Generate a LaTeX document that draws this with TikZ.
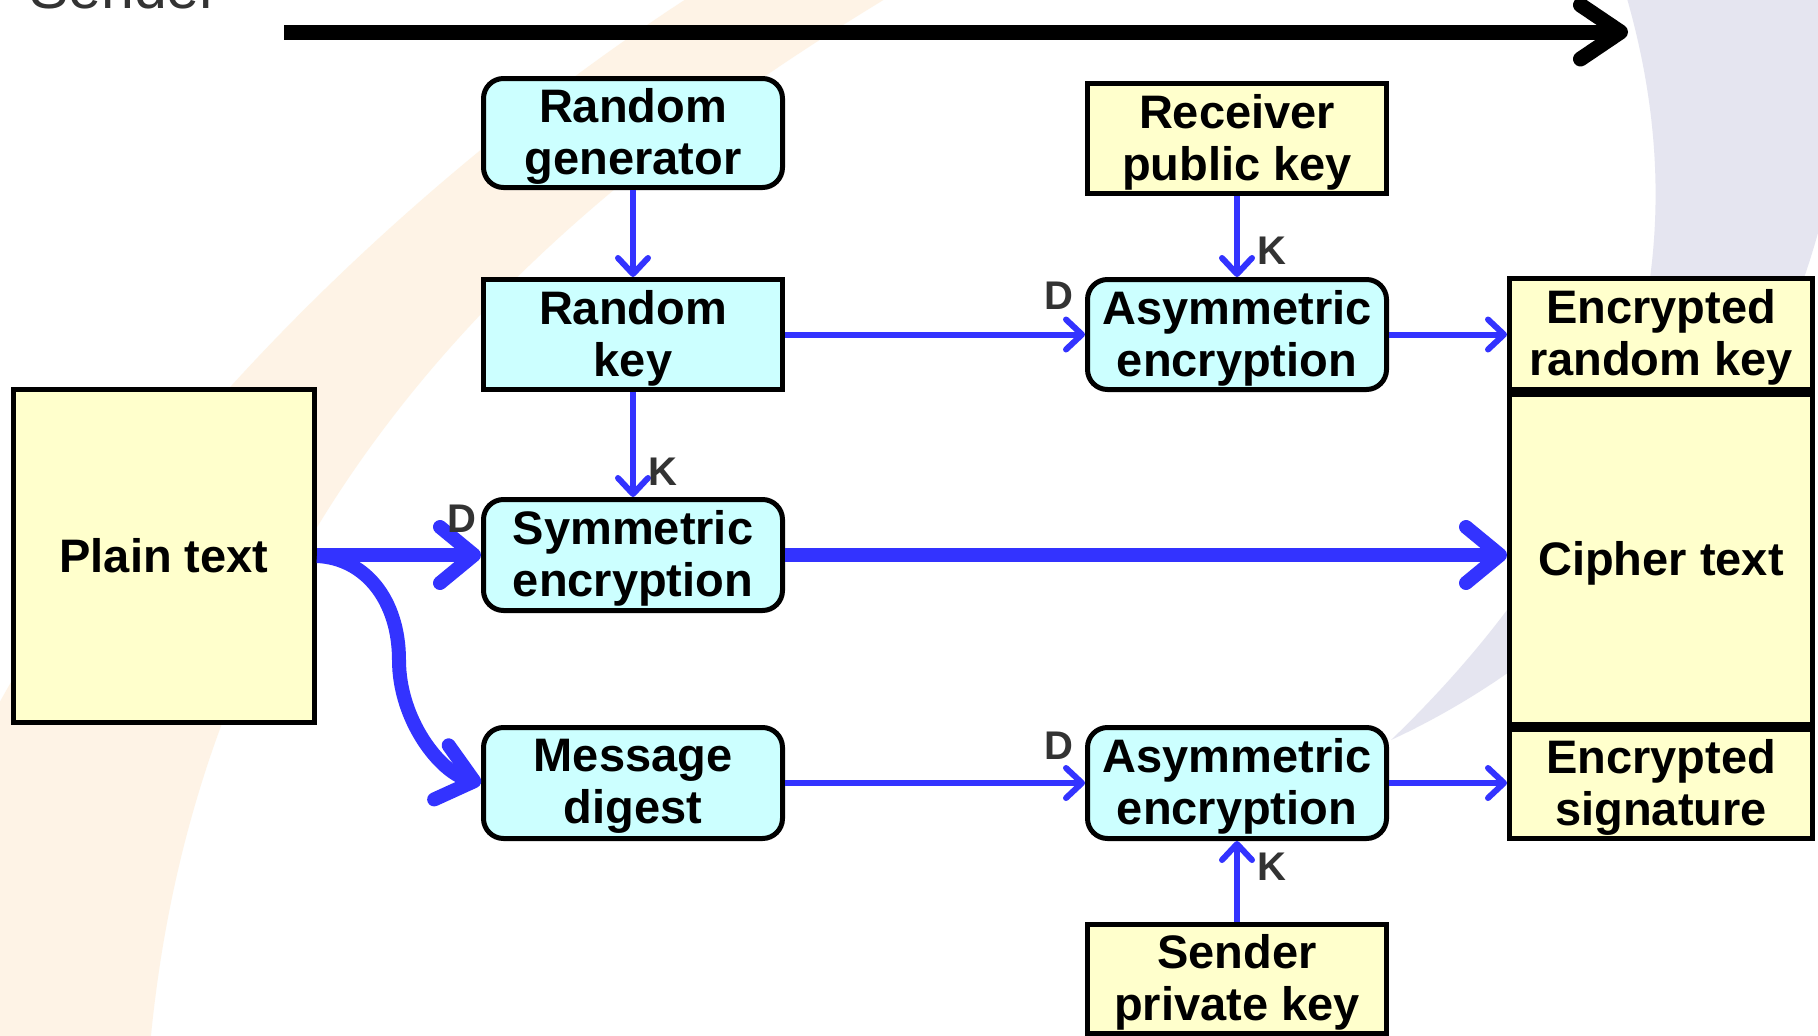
\documentclass[tikz,border=0pt]{standalone}
\usepackage{fontspec}
\setmainfont{Liberation Sans}
\usetikzlibrary{arrows.meta}
\definecolor{myblue}{RGB}{51,51,255}
\definecolor{boxyellow}{RGB}{255,255,204}
\definecolor{boxcyan}{RGB}{204,255,255}
\definecolor{lblgray}{RGB}{51,51,51}
\definecolor{bgorange}{RGB}{254,243,230}
\definecolor{bglav}{RGB}{229,229,240}
\begin{document}
\begin{tikzpicture}[x=1pt,y=-1pt,
  box/.style={draw=black, line width=5pt, inner sep=0pt, align=center,
    font=\fontsize{47}{52}\selectfont\bfseries, text=black},
  twoline/.style={text depth=3pt},
  ybox/.style={box, fill=boxyellow},
  cbox/.style={box, fill=boxcyan},
  rbox/.style={cbox, rounded corners=20pt},
  thinarrow/.style={draw=myblue, line width=6pt, -{Straight Barb[length=16pt,width=30pt,round]}},
  thickarrow/.style={draw=myblue, line width=14pt, -{Straight Barb[length=34pt,width=56pt,round]}},
  lbl/.style={font=\fontsize{40}{44}\selectfont\bfseries, text=lblgray, inner sep=0pt},
]
\useasboundingbox (0,0) rectangle (1818,1036);
\fill[white] (0,0) rectangle (1818,1036);
\begin{scope}
\clip (0,0) rectangle (1818,1036);
% background swooshes
\fill[bgorange] (-10,720) .. controls (150,420) and (450,150) .. (700,-10)
  -- (900,-10) .. controls (550,200) and (200,500) .. (150,1046) -- (-10,1046) -- cycle;
\fill[bglav] (1626,-5) .. controls (1700,250) and (1640,500) .. (1391,740)
  .. controls (1650,620) and (1850,350) .. (1850,-5) -- cycle;
\end{scope}

% sender title (cut off at top)
\node[font=\fontsize{59}{60}\selectfont, text=lblgray, anchor=base west, inner sep=0pt] (sender) at (29,9) {Sender};
\coordinate (tl) at (284,32);
\coordinate (tr) at (1628,32);
\draw[line width=15pt, -{Straight Barb[length=40pt,width=54pt,round]}] (tl) -- (tr);

% nodes
\node[rbox, twoline, minimum width=299pt, minimum height=109pt] (rgen) at (633,133) {Random\\generator};
\node[cbox, twoline, minimum width=299pt, minimum height=110pt] (rkey) at (633,334.5) {Random\\key};
\node[rbox, twoline, minimum width=299pt, minimum height=111pt] (sym) at (633,555) {Symmetric\\encryption};
\node[rbox, twoline, minimum width=299pt, minimum height=111pt] (md) at (633,783) {Message\\digest};
\node[ybox, twoline, minimum width=299pt, minimum height=110pt] (rpk) at (1237,138.5) {Receiver\\public key};
\node[rbox, twoline, minimum width=299pt, minimum height=110pt] (asym1) at (1237,334.5) {Asymmetric\\encryption};
\node[rbox, twoline, minimum width=299pt, minimum height=111pt] (asym2) at (1237,783) {Asymmetric\\encryption};
\node[ybox, twoline, minimum width=299pt, minimum height=109pt] (spk) at (1237,979) {Sender\\private key};
\node[ybox, minimum width=301pt, minimum height=333pt] (plain) at (164,556) {Plain text};
\node[ybox, twoline, minimum width=303pt, minimum height=111pt] (erk) at (1661,334) {Encrypted\\random key};
\node[ybox, twoline, minimum width=303pt, minimum height=330pt] (ct) at (1661,559.5) {Cipher text};
\node[ybox, twoline, minimum width=303pt, minimum height=109pt] (es) at (1661,784) {Encrypted\\signature};

% connectors
\draw[thinarrow] (rgen) -- (rkey);
\draw[thinarrow] (rkey) -- (sym);
\draw[thinarrow] (rpk) -- (asym1);
\draw[thinarrow] (spk) -- (asym2);
\draw[thinarrow] (rkey) -- (asym1);
\draw[thinarrow] (md) -- (asym2);
\draw[thinarrow] (asym1.east) -- (erk.west |- asym1.east);
\draw[thinarrow] (asym2.east) -- (es.west |- asym2.east);
\draw[thickarrow] (plain.east |- sym.west) -- (sym.west);
\draw[thickarrow] (sym.east) -- (sym.east -| ct.west);
\draw[thickarrow] (plain.east) .. controls (365,558) and (399,600) .. (399,660)
  .. controls (399,720) and (440,772) .. (md.west);

% labels
\node[lbl] (k1) at (663,472) {K};
\node[lbl] (k2) at (1272,251) {K};
\node[lbl] (k3) at (1272,867) {K};
\node[lbl] (d1) at (462,519) {D};
\node[lbl] (d2) at (1059,296) {D};
\node[lbl] (d3) at (1059,746) {D};
\end{tikzpicture}
\end{document}
